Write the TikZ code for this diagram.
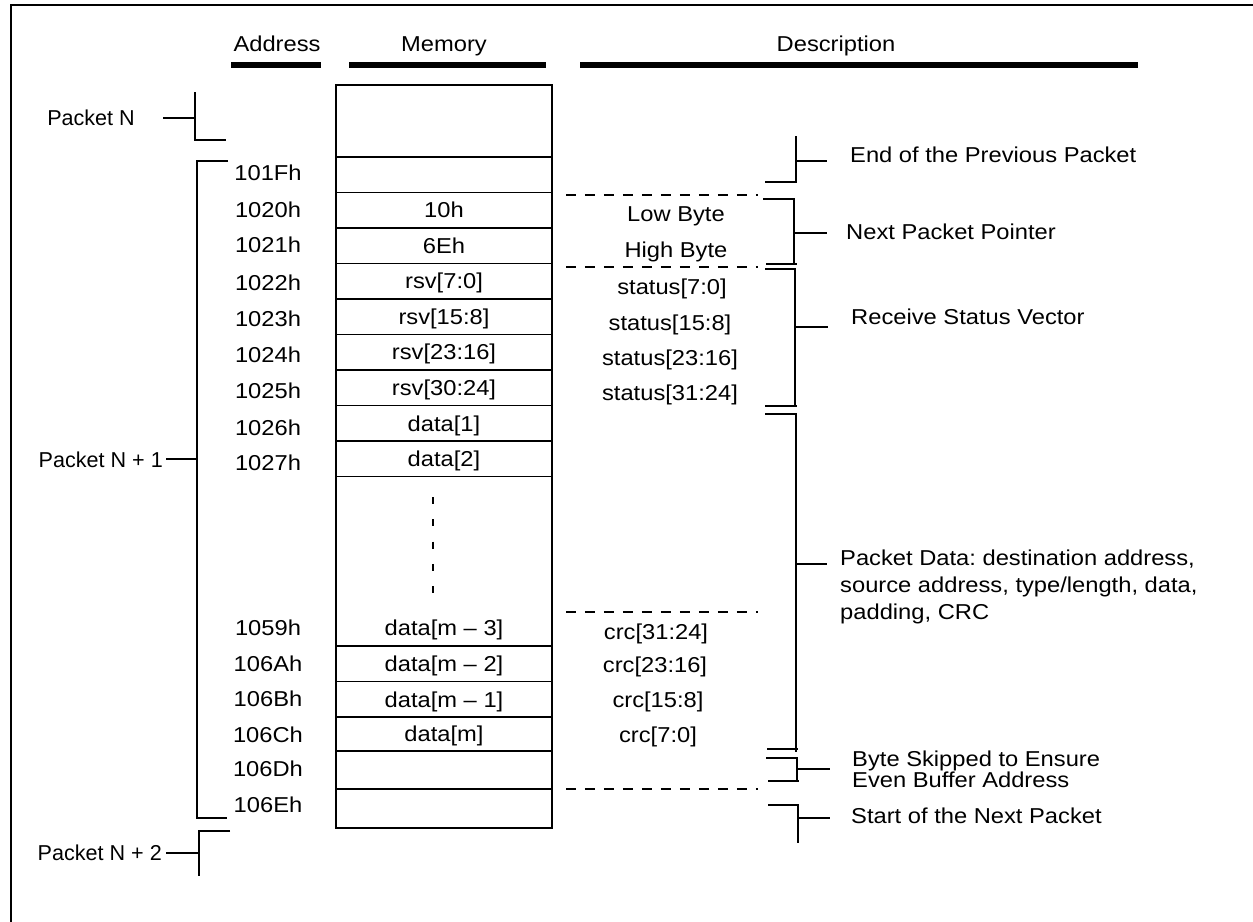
\documentclass[tikz,border=0pt]{standalone}
\usepackage{fontspec}
\setsansfont{Liberation Sans}[FakeStretch=1.1]
\newfontfamily\pktfont{Liberation Sans}
\usetikzlibrary{positioning}
\frenchspacing

\begin{document}
\begin{tikzpicture}[
		x=0.03cm, y=-0.03cm,
		every node/.style={font=\sffamily\fontsize{18.4}{23}\selectfont, inner sep=0pt, text height=13.2pt, text depth=0pt},
		pktlabel/.style={anchor=east, font=\pktfont\fontsize{18.4}{23}\selectfont},
		cell/.style={draw, line width=1.6pt, outer sep=0pt, minimum width=6.48cm, minimum height=1.065cm},
		bracket/.style={draw, line width=1.6pt},
		headbar/.style={draw, line width=4.6pt},
		sepline/.style={draw, line width=1.3pt, dash pattern=on 8.5pt off 7.7pt}
	]
	\useasboundingbox (0,0) rectangle (1253,922);

	% Frame
	\draw[line width=1.7pt] (11,922) -- (11,5) -- (1253,5);

	% Column headers
	\node (haddr) at (277,44) {Address};
	\node (hmem) at (444,44) {Memory};
	\node (hdesc) at (836,44) {Description};
	\draw[headbar] (231,65) -- (321,65);
	\draw[headbar] (349,65) -- (546,65);
	\draw[headbar] (580,65) -- (1138,65);

	% Memory column
	\node[cell, minimum height=2.16cm] (mtop) at (444,121) {};
	\node[cell, below=0pt of mtop] (m101F) {};
	\node[cell, below=0pt of m101F] (m1020) {10h};
	\node[cell, below=0pt of m1020] (m1021) {6Eh};
	\node[cell, below=0pt of m1021] (m1022) {rsv[7:0]};
	\node[cell, below=0pt of m1022] (m1023) {rsv[15:8]};
	\node[cell, below=0pt of m1023] (m1024) {rsv[23:16]};
	\node[cell, below=0pt of m1024] (m1025) {rsv[30:24]};
	\node[cell, below=0pt of m1025] (m1026) {data[1]};
	\node[cell, below=0pt of m1026] (m1027) {data[2]};
	\node[cell, below=0pt of m1027, minimum height=5.085cm] (mgap) {};
	\node (m1059) at (444,628) {data[m – 3]};
	\node[cell, below=0pt of mgap] (m106A) {data[m – 2]};
	\node[cell, below=0pt of m106A] (m106B) {data[m – 1]};
	\node[cell, below=0pt of m106B, minimum height=1.02cm] (m106C) {data[m]};
	\node[cell, below=0pt of m106C, minimum height=1.14cm] (m106D) {};
	\node[cell, below=0pt of m106D, minimum height=1.17cm] (m106E) {};
	\draw[line width=1.3pt, dash pattern=on 6pt off 13pt] (433,497) -- (433,593);

	% Addresses
	\node (a101F) at (268,173) {101Fh};
	\node (a1020) at (268,210) {1020h};
	\node (a1021) at (268,245) {1021h};
	\node (a1022) at (268,283) {1022h};
	\node (a1023) at (268,319) {1023h};
	\node (a1024) at (268,355) {1024h};
	\node (a1025) at (268,391) {1025h};
	\node (a1026) at (268,428) {1026h};
	\node (a1027) at (268,463) {1027h};
	\node (a1059) at (268,628) {1059h};
	\node (a106A) at (268,664) {106Ah};
	\node (a106B) at (268,699) {106Bh};
	\node (a106C) at (268,735) {106Ch};
	\node (a106D) at (268,769) {106Dh};
	\node (a106E) at (268,805) {106Eh};

	% Byte descriptions
	\node (dlow) at (676,214) {Low Byte};
	\node (dhigh) at (676,250) {High Byte};
	\node (dst0) at (672,287) {status[7:0]};
	\node (dst1) at (670,323) {status[15:8]};
	\node (dst2) at (670,358) {status[23:16]};
	\node (dst3) at (670,393) {status[31:24]};
	\node (dcrc3) at (656,632) {crc[31:24]};
	\node (dcrc2) at (655,665) {crc[23:16]};
	\node (dcrc1) at (658,700) {crc[15:8]};
	\node (dcrc0) at (658,735) {crc[7:0]};
	\draw[sepline] (566,195) -- (758,195);
	\draw[sepline] (566,267) -- (758,267);
	\draw[sepline] (566,612) -- (758,612);
	\draw[sepline] (566,789) -- (758,789);

	% Packet brackets (left)
	\node[pktlabel] (pktN) at (135,118) {Packet N};
	\node[pktlabel] (pktN1) at (163,460) {Packet N + 1};
	\node[pktlabel] (pktN2) at (162,853) {Packet N + 2};
	\draw[bracket] (163,118) -- (195,118);
	\draw[bracket] (195,92) -- (195,140) -- (226,140);
	\draw[bracket] (228,161) -- (197,161) -- (197,818) -- (227,818);
	\draw[bracket] (166,459) -- (197,459);
	\draw[bracket] (230,831) -- (199,831) -- (199,876);
	\draw[bracket] (166,853) -- (199,853);

	% Field brackets (right)
	\draw[bracket] (765,182) -- (796,182) -- (796,136);
	\draw[bracket] (796,161) -- (827,161);
	\draw[bracket] (763,199) -- (794,199) -- (794,265);
	\draw[bracket] (766,264) -- (797,264);
	\draw[bracket] (794,233) -- (827,233);
	\draw[bracket] (765,269) -- (795,269) -- (795,406);
	\draw[bracket] (765,406) -- (797,406);
	\draw[bracket] (795,327) -- (828,327);
	\draw[bracket] (765,414) -- (796,414) -- (796,752);
	\draw[bracket] (767,749) -- (798,749);
	\draw[bracket] (796,564) -- (827,564);
	\draw[bracket] (766,758) -- (797,758) -- (797,781);
	\draw[bracket] (768,781) -- (799,781);
	\draw[bracket] (797,769) -- (830,769);
	\draw[bracket] (768,805) -- (798,805) -- (798,843);
	\draw[bracket] (798,818) -- (830,818);

	\node[anchor=west] (fprev) at (850,155) {End of the Previous Packet};
	\node[anchor=west] (fnext) at (846,232) {Next Packet Pointer};
	\node[anchor=west] (fstat) at (851,317) {Receive Status Vector};
	\node[anchor=west, align=left, text height=, text depth=] (fdata) at (840,587)
	{Packet Data: destination address,\\source address, type/length, data,\\padding, CRC};
	\node[anchor=west, align=left, text height=, text depth=, font=\sffamily\fontsize{18.4}{16.2}\selectfont] (fskip) at (852,769.5)
	{Byte Skipped to Ensure\\Even Buffer Address};
	\node[anchor=west] (fstart) at (851,816) {Start of the Next Packet};

\end{tikzpicture}
\end{document}
